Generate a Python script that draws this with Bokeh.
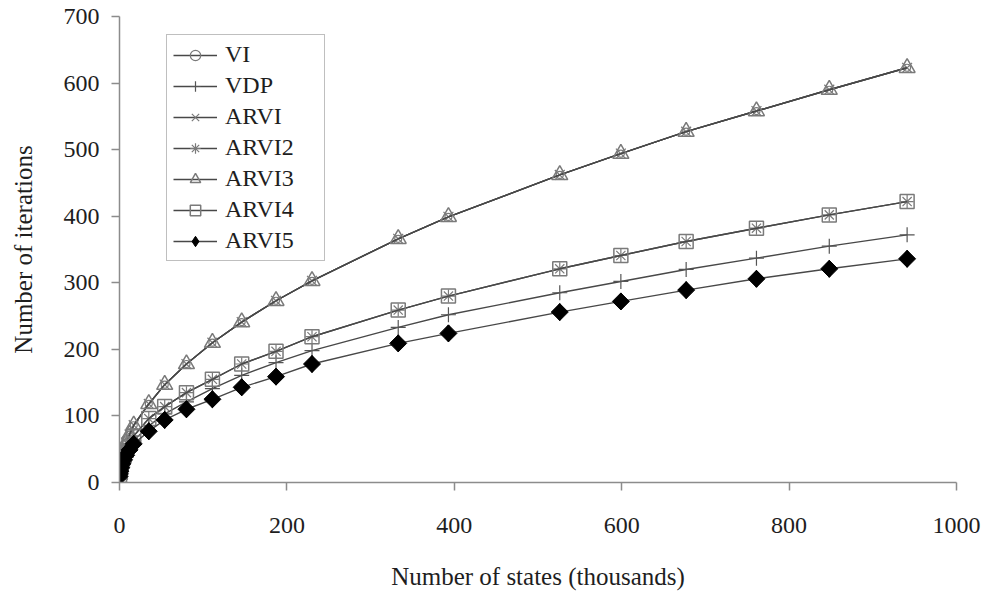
import math
from bokeh.plotting import figure
from bokeh.models import Range1d, Legend, LegendItem, FixedTicker
from bokeh.embed import file_html
from bokeh.resources import INLINE

# Data (thousands of states vs. number of iterations)
states = [0.1, 0.4, 1, 2, 3.5, 5.5, 8, 12, 17, 35, 54, 80, 111, 146, 187, 230,
          333, 393, 526, 599, 677, 761, 848, 941]
iters_vi = [12, 18, 25, 33, 42, 51, 60, 72, 86, 118, 147, 178, 210, 241, 273, 303,
            366, 399, 462, 494, 527, 558, 590, 623]
iters_arvi = [12, 18, 25, 33, 42, 51, 60, 72, 86, 118, 147, 178, 210, 241, 273, 303,
              366, 399, 462, 494, 527, 558, 590, 623]
iters_arvi3 = [12, 18, 25, 33, 42, 51, 60, 72, 86, 118, 147, 178, 210, 241, 273, 303,
               366, 399, 462, 494, 527, 558, 590, 623]
iters_arvi2 = [11, 15, 20, 26, 33, 40, 48, 58, 70, 96, 114, 135, 155, 178, 197, 219,
               259, 280, 321, 341, 362, 382, 402, 422]
iters_arvi4 = [11, 15, 20, 26, 33, 40, 48, 58, 70, 96, 114, 135, 155, 178, 197, 219,
               259, 280, 321, 341, 362, 382, 402, 422]
iters_vdp = [10, 14, 19, 24, 30, 37, 44, 53, 63, 85, 103, 121, 141, 161, 180, 198,
             233, 252, 285, 302, 320, 337, 355, 372]
iters_arvi5 = [9, 13, 17, 22, 28, 34, 41, 49, 58, 77, 94, 110, 125, 143, 159, 178,
               209, 224, 256, 272, 289, 306, 321, 336]

x_ticks = [0, 200, 400, 600, 800, 1000]
y_ticks = [0, 100, 200, 300, 400, 500, 600, 700]

FONT = "Liberation Serif"
LINE = "#484848"
MARK = "#7a7a7a"

p = figure(width=987, height=592, output_backend="svg", toolbar_location=None,
           x_range=Range1d(0, 1000), y_range=Range1d(0, 700),
           min_border_left=119, min_border_right=31, min_border_top=16,
           min_border_bottom=110)
p.outline_line_color = None
p.xgrid.visible = False
p.ygrid.visible = False
p.background_fill_color = "white"
p.border_fill_color = "white"

for ax in (p.xaxis[0], p.yaxis[0]):
    ax.axis_line_color = "#8c8c8c"
    ax.axis_line_width = 1.5
    ax.major_tick_line_color = "#8c8c8c"
    ax.major_tick_line_width = 1.5
    ax.major_tick_out = 8
    ax.major_tick_in = 0
    ax.minor_tick_line_color = None
    ax.major_label_text_font = FONT
    ax.major_label_text_font_size = "24px"
    ax.major_label_text_color = "#1e1e1e"
    ax.axis_label_text_font = FONT
    ax.axis_label_text_font_size = "25px"
    ax.axis_label_text_font_style = "normal"
    ax.axis_label_text_color = "#1e1e1e"

p.xaxis.ticker = FixedTicker(ticks=x_ticks)
p.yaxis.ticker = FixedTicker(ticks=y_ticks)
p.xaxis.axis_label = "Number of states (thousands)"
p.yaxis.axis_label = "Number of iterations"
p.xaxis.major_label_standoff = 27
p.xaxis.axis_label_standoff = 27
p.yaxis.major_label_standoff = 12
p.yaxis.axis_label_standoff = 24

items = []

def series(name, ys, marker, size, line_color, fill_color, mark_color, mw=1.2, angle=0.0):
    r_line = p.line(states, ys, line_color=line_color, line_width=1.4)
    r_mark = p.scatter(states, ys, marker=marker, size=size, angle=angle,
                       line_color=mark_color, fill_color=fill_color, line_width=mw)
    items.append(LegendItem(label=name, renderers=[r_line, r_mark]))
    return r_line, r_mark

series("VI", iters_vi, "circle", 7, LINE, None, MARK)
series("VDP", iters_vdp, "cross", 15, LINE, None, "#555555")
series("ARVI", iters_arvi, "x", 14, LINE, None, MARK)
series("ARVI2", iters_arvi2, "asterisk", 13, LINE, None, MARK)
series("ARVI3", iters_arvi3, "triangle", 16, LINE, None, MARK, 1.5)
series("ARVI4", iters_arvi4, "square", 14, LINE, None, MARK, 1.5)

# ARVI5: diamond used in the legend, hidden under a rotated square in the plot
l5 = p.line(states, iters_arvi5, line_color=LINE, line_width=1.4)
d5 = p.scatter(states, iters_arvi5, marker="diamond", size=17,
               line_color="black", fill_color="black")
p.scatter(states, iters_arvi5, marker="square", size=12, angle=math.pi / 4,
          line_color="black", fill_color="black")
items.append(LegendItem(label="ARVI5", renderers=[l5, d5]))

legend = Legend(items=items, location=(47, 221))
legend.label_text_font = FONT
legend.label_text_font_size = "24px"
legend.label_text_color = "#1e1e1e"
legend.glyph_width = 44
legend.glyph_height = 26
legend.label_height = 26
legend.label_width = 93
legend.spacing = 4
legend.padding = 6
legend.label_standoff = 8
legend.border_line_color = "#808080"
legend.border_line_width = 1.5
legend.background_fill_alpha = 1.0
legend.margin = 0
p.add_layout(legend, "center")

open("out.html", "w").write(file_html(p, INLINE))
